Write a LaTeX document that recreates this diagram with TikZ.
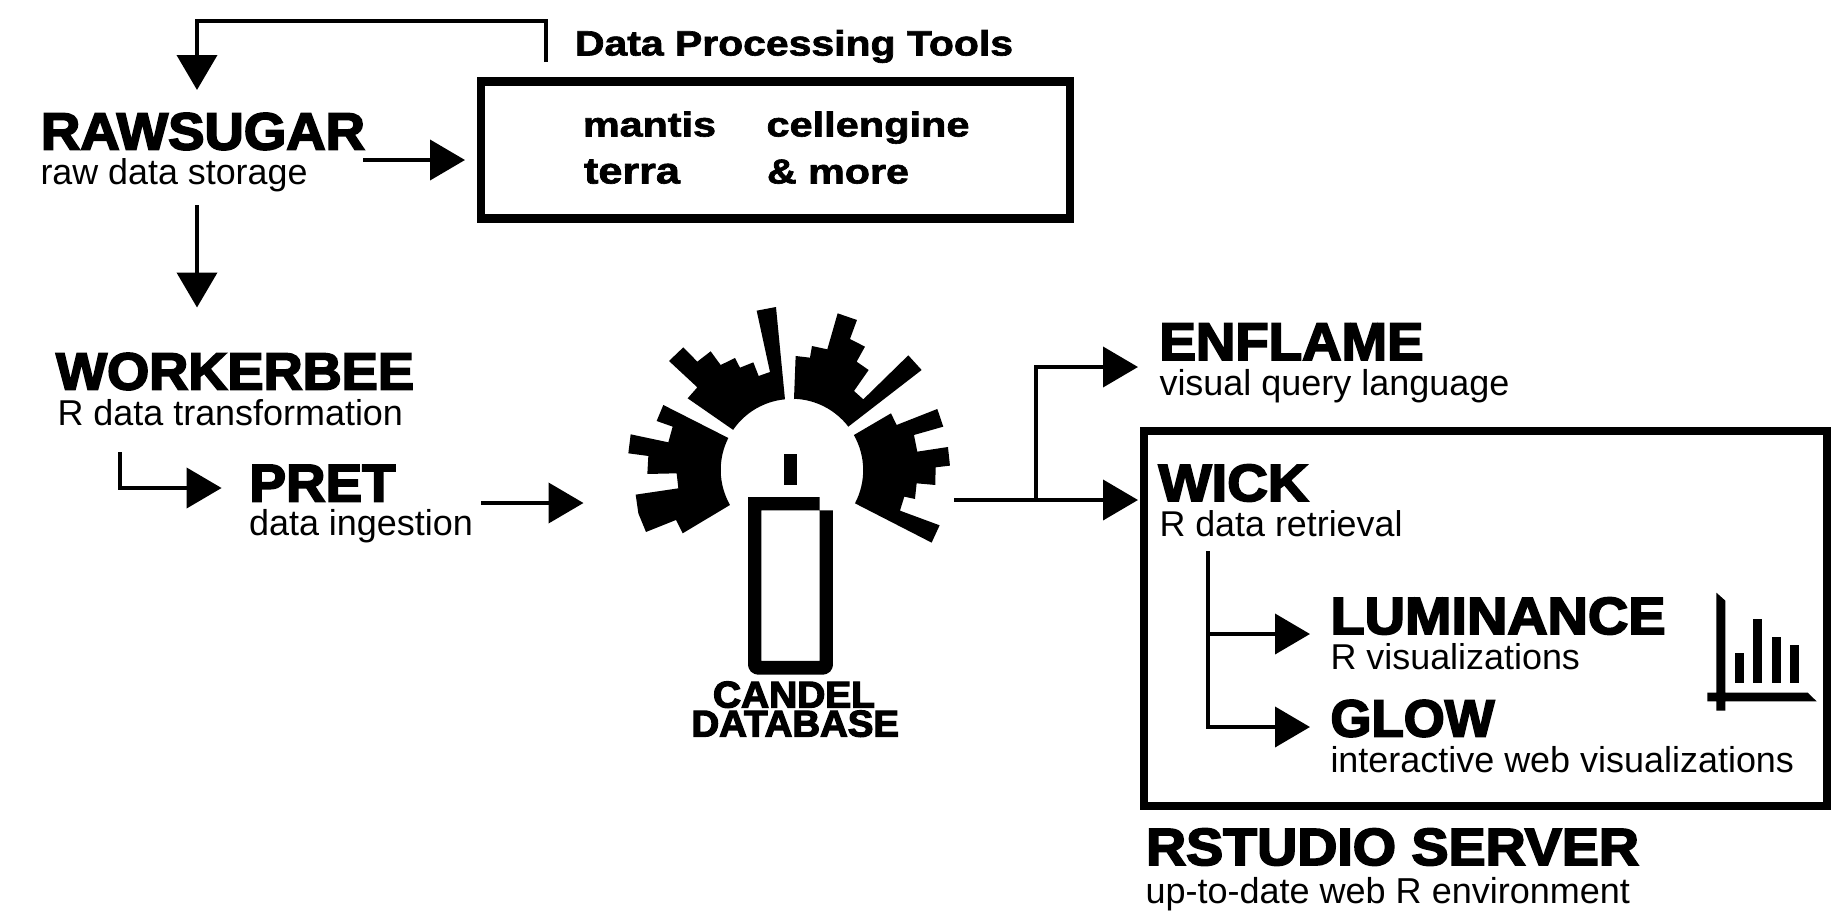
\documentclass[tikz,border=0pt]{standalone}
\usepackage{fontspec}
\usepackage{graphicx}
\usetikzlibrary{arrows.meta}
\setmainfont{Liberation Sans}
\newfontfamily\blk[FakeBold=3.4]{Liberation Sans Bold}
\newfontfamily\semi[FakeBold=1.8]{Liberation Sans Bold}
\newcommand{\heavy}[6]{\node[textbase] (#1) at (#2,#3) {\resizebox{#4pt}{#5pt}{\blk #6}};}
\newcommand{\medtxt}[6]{\node[textbase] (#1) at (#2,#3) {\resizebox{#4pt}{#5pt}{\semi #6}};}
\newcommand{\light}[5]{\node[textbase] (#1) at (#2,#3) {\resizebox{#4pt}{!}{\rmfamily #5}};}
\tikzset{
  textbase/.style={anchor=base west,inner sep=0pt,outer sep=0pt,font=\fontsize{20pt}{24pt}\selectfont},
  conn/.style={draw=black,line width=4pt,line join=miter},
  arrowed/.style={conn,-{Triangle[length=35pt,width=40pt]}},
  framebox/.style={draw=black,line width=8.5pt,fill=none,inner sep=0pt,outer sep=0pt},
  solid shape/.style={fill=black,draw=none}
}
\begin{document}
\begin{tikzpicture}[x=1pt,y=-1pt]
\useasboundingbox (0,0) rectangle (1844,918);
% boxes
\node[framebox,minimum width=589pt,minimum height=137pt] (tools) at (775.5,150) {};
\node[framebox,minimum width=683pt,minimum height=375pt] (rstudiobox) at (1485.5,618.5) {};
% texts
\heavy{rawsugar}{41}{149.5}{324}{36.5}{RAWSUGAR}
\light{rawsub}{40.5}{184.5}{267}{raw data storage}
\medtxt{dpt}{575}{55.5}{438}{25.5}{Data Processing Tools}
\medtxt{mantis}{583}{136.5}{133}{25}{mantis}
\medtxt{cellengine}{766.5}{136.5}{203}{25}{cellengine}
\medtxt{terra}{584}{183.5}{96}{24}{terra}
\medtxt{more}{767}{183.5}{142}{24}{\& more}
\heavy{workerbee}{56}{389.5}{358}{36.5}{WORKERBEE}
\light{workersub}{57.5}{425}{345.5}{R data transformation}
\heavy{pret}{249.5}{501.5}{146}{36.5}{PRET}
\light{pretsub}{249}{535}{224}{data ingestion}
\heavy{enflame}{1159.5}{360}{264}{36.5}{ENFLAME}
\light{enflamesub}{1159.5}{395}{350}{visual query language}
\heavy{wick}{1158.5}{501}{150}{36.5}{WICK}
\light{wicksub}{1159.5}{536.5}{243}{R data retrieval}
\heavy{luminance}{1330.5}{634}{335}{36.5}{LUMINANCE}
\light{lumsub}{1330.5}{669.5}{249.5}{R visualizations}
\heavy{glow}{1330.5}{736.5}{164}{36.5}{GLOW}
\light{glowsub}{1330.5}{772.5}{463.5}{interactive web visualizations}
\heavy{rstudio}{1146}{865}{493}{36.5}{RSTUDIO SERVER}
\light{rstudiosub}{1145.5}{903}{484.5}{up-to-date web R environment}
\heavy{candel}{713}{707.5}{162}{26}{CANDEL}
\heavy{database}{691.5}{736.5}{207.5}{26}{DATABASE}
% connector ends
\coordinate (loopstart) at (545.7,62);
\coordinate (looptr) at (545.7,20.7);
\coordinate (looptl) at (197,20.7);
\coordinate (looptip) at (197,90);
\coordinate (rawright) at (363,160);
\coordinate (rawrighttip) at (465,160);
\coordinate (rawdown) at (197,205);
\coordinate (rawdowntip) at (197,307.5);
\coordinate (wbstart) at (120,452);
\coordinate (wbcorner) at (120,488);
\coordinate (wbtip) at (221.6,488);
\coordinate (pretout) at (481,503);
\coordinate (prettip) at (583.5,503);
\coordinate (dbout) at (954,500);
\coordinate (dbjoin) at (1036,500);
\coordinate (enfcorner) at (1036,367);
\coordinate (enftip) at (1138,367);
\coordinate (wicktip) at (1138,500);
\coordinate (wickdown) at (1208,551);
\coordinate (lumjoin) at (1208,634);
\coordinate (glowcorner) at (1208,727);
\coordinate (lumtip) at (1310,634);
\coordinate (glowtip) at (1310,727);
% connectors
\draw[arrowed] (loopstart) -- (looptr) -- (looptl) -- (looptip);
\draw[arrowed] (rawright) -- (rawrighttip);
\draw[arrowed] (rawdown) -- (rawdowntip);
\draw[arrowed] (wbstart) -- (wbcorner) -- (wbtip);
\draw[arrowed] (pretout) -- (prettip);
\draw[arrowed] (dbout) -- (wicktip);
\draw[arrowed] (dbjoin) -- (enfcorner) -- (enftip);
\draw[arrowed] (wickdown) -- (glowcorner) -- (glowtip);
\draw[arrowed] (lumjoin) -- (lumtip);
% radial fan (zoom coordinates, 3 units per pixel)
\begin{scope}[shift={(600,290)},x=0.3333pt,y=-0.3333pt]
\fill[solid shape] (400,420) -- (263,325) -- (292,292) -- (207,213) -- (250,172) -- (292,215) -- (332,184) -- (362,225) -- (405,204) -- (420,233) -- (460,217) -- (476,258) -- (510,246) -- (470,62) -- (528,51) -- (555,328) arc[start angle=-95.4,end angle=-145.6,radius=213] -- cycle;
\fill[solid shape] (582,328) -- (587,198) -- (630,203) -- (636,168) -- (682,178) -- (713,70) -- (771,90) -- (750,147) -- (795,170) -- (770,215) -- (806,240) -- (762,303) -- (790,328) -- (925,196) -- (965,240) -- (745,410) arc[start angle=-37.4,end angle=-88.1,radius=213] -- cycle;
\fill[solid shape] (762,435) -- (873,370) -- (890,405) -- (1012,357) -- (1030,410) -- (942,435) -- (952,485) -- (1044,471) -- (1050,527) -- (1007,532) -- (1006,585) -- (950,580) -- (945,627) -- (913,620) -- (900,662) -- (1019,706) -- (995,758) -- (765,640) arc[start angle=27.8,end angle=-29.3,radius=213] -- cycle;
\fill[solid shape] (383,443) -- (190,345) -- (170,393) -- (218,410) -- (205,457) -- (92,433) -- (85,490) -- (145,498) -- (142,552) -- (230,550) -- (235,595) -- (107,614) -- (115,670) -- (138,726) -- (228,690) -- (248,730) -- (390,645) arc[start angle=150.4,end angle=206.8,radius=213] -- cycle;
\end{scope}
% candle
\begin{scope}[shift={(680,440)},x=0.3333pt,y=-0.3333pt]
\fill[solid shape] (312,41) rectangle (352,136);
\fill[solid shape,even odd rule] (204,171) -- (419,171) -- (419,211) -- (459,211) -- (459,670) .. controls (459,692) and (447,704) .. (425,704) -- (238,704) .. controls (216,704) and (204,692) .. (204,670) -- cycle
  (244,211) rectangle (419,663);
\end{scope}
% chart icon
\begin{scope}[shift={(1680,570)},x=0.3333pt,y=-0.3333pt]
\fill[solid shape] (109,68) -- (136,92) -- (136,368) -- (383,368) -- (410,394) -- (136,394) -- (136,422) -- (109,422) -- (109,394) -- (82,394) -- (82,368) -- (109,368) -- cycle;
\fill[solid shape] (165,250) rectangle (192,340);
\fill[solid shape] (219,148) rectangle (247,340);
\fill[solid shape] (275,200) rectangle (302,340);
\fill[solid shape] (330,225) rectangle (357,340);
\end{scope}
\end{tikzpicture}
\end{document}
